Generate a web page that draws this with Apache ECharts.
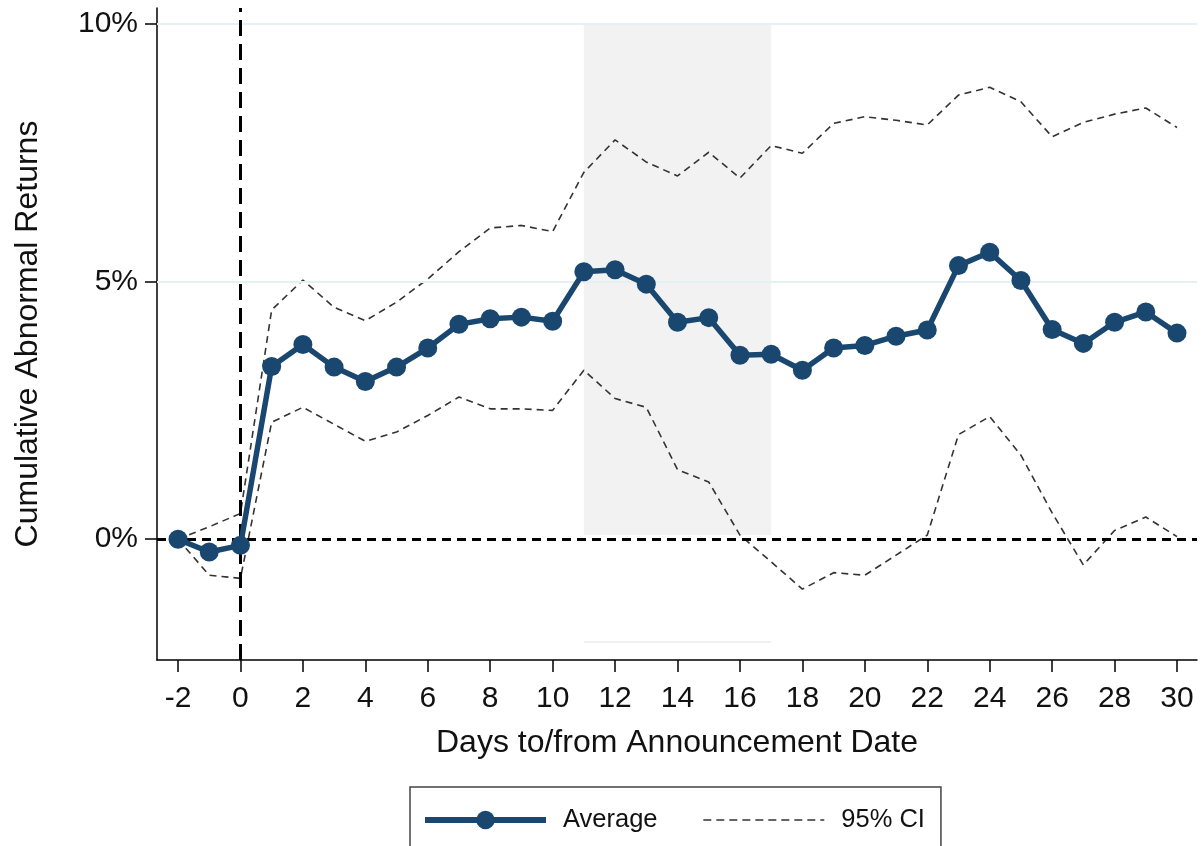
<!DOCTYPE html>
<html>
<head>
<meta charset="utf-8">
<script src="https://cdn.jsdelivr.net/npm/echarts@6/dist/echarts.min.js"></script>
<style>
  html, body { margin: 0; padding: 0; background: #fff; }
  #chart { width: 1201px; height: 846px; }
</style>
</head>
<body>
<div id="chart"></div>
<script>
// Event window: days relative to the announcement date
const days = [-2, -1, 0, 1, 2, 3, 4, 5, 6, 7, 8, 9, 10, 11, 12, 13, 14, 15, 16,
  17, 18, 19, 20, 21, 22, 23, 24, 25, 26, 27, 28, 29, 30];
// Average cumulative abnormal return (%)
const average = [0, -0.25, -0.12, 3.35, 3.78, 3.34, 3.06, 3.34, 3.71, 4.17, 4.28,
  4.31, 4.23, 5.19, 5.23, 4.95, 4.21, 4.30, 3.57, 3.59, 3.28, 3.71, 3.76, 3.94,
  4.06, 5.31, 5.57, 5.02, 4.07, 3.80, 4.21, 4.41, 4.00];
// 95% confidence band (%)
const ciUpper = [0, 0.24, 0.50, 4.45, 5.03, 4.50, 4.24, 4.60, 5.05, 5.58, 6.04,
  6.09, 5.97, 7.12, 7.75, 7.32, 7.05, 7.51, 7.01, 7.64, 7.49, 8.07, 8.20, 8.13,
  8.04, 8.62, 8.77, 8.49, 7.81, 8.09, 8.25, 8.37, 7.99];
const ciLower = [0, -0.70, -0.76, 2.27, 2.56, 2.23, 1.90, 2.08, 2.40, 2.76, 2.53,
  2.53, 2.50, 3.28, 2.73, 2.56, 1.35, 1.11, 0.08, -0.44, -0.97, -0.65, -0.70,
  -0.31, 0.08, 2.03, 2.38, 1.63, 0.51, -0.50, 0.17, 0.43, 0.05];
// Tick labels
const xTicks = [-2, 0, 2, 4, 6, 8, 10, 12, 14, 16, 18, 20, 22, 24, 26, 28, 30];
const yTicks = [0, 5, 10];
// Highlighted window (days) and its vertical extent (%)
const shadeDays = [11, 17];
const shadeRange = [0.08, 10];
const shadeBase = -2;

const FONT = 'Liberation Sans, Arial, sans-serif';
const NAVY = '#1a476f';
const CI_DASH = [7, 5];

const pair = (xs, ys) => xs.map((x, i) => [x, ys[i]]);

const chart = echarts.init(document.getElementById('chart'), null, { renderer: 'canvas' });

chart.setOption({
  animation: false,
  backgroundColor: '#ffffff',
  textStyle: { fontFamily: FONT },
  grid: { left: 157, right: 4, top: 8, bottom: 186, containLabel: false },
  xAxis: {
    type: 'value',
    min: -2.673,
    max: 30.64,
    name: 'Days to/from Announcement Date',
    nameLocation: 'middle',
    nameGap: 67,
    nameTextStyle: { fontSize: 32, color: '#111', fontFamily: FONT },
    axisLine: { onZero: false, lineStyle: { color: '#000', width: 1.5 } },
    axisTick: { show: true, length: 12, customValues: xTicks, lineStyle: { color: '#000', width: 1.5 } },
    axisLabel: { customValues: xTicks, fontSize: 30, color: '#111', margin: 24, fontFamily: FONT },
    splitLine: { show: false }
  },
  yAxis: {
    type: 'value',
    min: -2.345,
    max: 10.31,
    name: 'Cumulative Abnormal Returns',
    nameLocation: 'middle',
    nameGap: 113,
    nameTextStyle: { fontSize: 32, color: '#111', fontFamily: FONT },
    axisLine: { show: true, onZero: false, lineStyle: { color: '#000', width: 1.5 } },
    axisTick: { show: true, length: 12, customValues: yTicks, lineStyle: { color: '#000', width: 1.5 } },
    axisLabel: { customValues: yTicks, fontSize: 30, color: '#111', margin: 19, fontFamily: FONT,
      formatter: v => v + '%' },
    splitLine: { show: false }
  },
  legend: {
    left: 410,
    top: 787,
    orient: 'horizontal',
    data: [
      { name: 'Average', lineStyle: { width: 6 } },
      { name: '95% CI', itemStyle: { opacity: 0 }, lineStyle: { width: 1.6, type: [8, 5] } }
    ],
    itemWidth: 121,
    itemHeight: 23,
    itemGap: 45,
    padding: [20, 16, 30, 12],
    borderColor: '#444',
    borderWidth: 1.5,
    backgroundColor: '#fff',
    selectedMode: false,
    textStyle: { fontSize: 25.5, color: '#111', fontFamily: FONT, padding: [0, 0, 0, 12] }
  },
  series: [
    {
      // shaded window, gridlines
      type: 'line',
      name: 'refs',
      data: [],
      silent: true,
      z: 1,
      markArea: {
        silent: true,
        itemStyle: { color: '#f2f2f2' },
        data: [[{ xAxis: shadeDays[0], yAxis: shadeRange[0] }, { xAxis: shadeDays[1], yAxis: shadeRange[1] }]]
      },
      markLine: {
        silent: true,
        symbol: 'none',
        label: { show: false },
        data: [
          { yAxis: 5, lineStyle: { color: '#e6eff1', width: 2, type: 'solid' } },
          { yAxis: 10, lineStyle: { color: '#e6eff1', width: 2, type: 'solid' } },
          [{ coord: [shadeDays[0], shadeBase], lineStyle: { color: '#f0f0f0', width: 2, type: 'solid' } },
           { coord: [shadeDays[1], shadeBase] }]
        ]
      }
    },
    {
      type: 'line',
      name: '95% CI',
      data: pair(days, ciUpper),
      showSymbol: false,
      symbol: 'none',
      z: 3,
      itemStyle: { color: '#333' },
      lineStyle: { color: '#333', width: 1.6, type: CI_DASH }
    },
    {
      type: 'line',
      name: '95% CI',
      data: pair(days, ciLower),
      showSymbol: false,
      symbol: 'none',
      z: 3,
      itemStyle: { color: '#333' },
      lineStyle: { color: '#333', width: 1.6, type: CI_DASH }
    },
    {
      // zero reference lines
      type: 'line',
      name: 'zero',
      data: [],
      silent: true,
      z: 4,
      markLine: {
        silent: true,
        symbol: 'none',
        label: { show: false },
        data: [
          { yAxis: 0, lineStyle: { color: '#000', width: 3, type: [9, 6] } },
          { xAxis: 0, lineStyle: { color: '#000', width: 3, type: [16, 8] } }
        ]
      }
    },
    {
      type: 'line',
      name: 'Average',
      data: pair(days, average),
      symbol: 'circle',
      symbolSize: 19,
      showAllSymbol: true,
      z: 6,
      itemStyle: { color: NAVY },
      lineStyle: { color: NAVY, width: 5.5 }
    }
  ]
});
</script>
</body>
</html>
